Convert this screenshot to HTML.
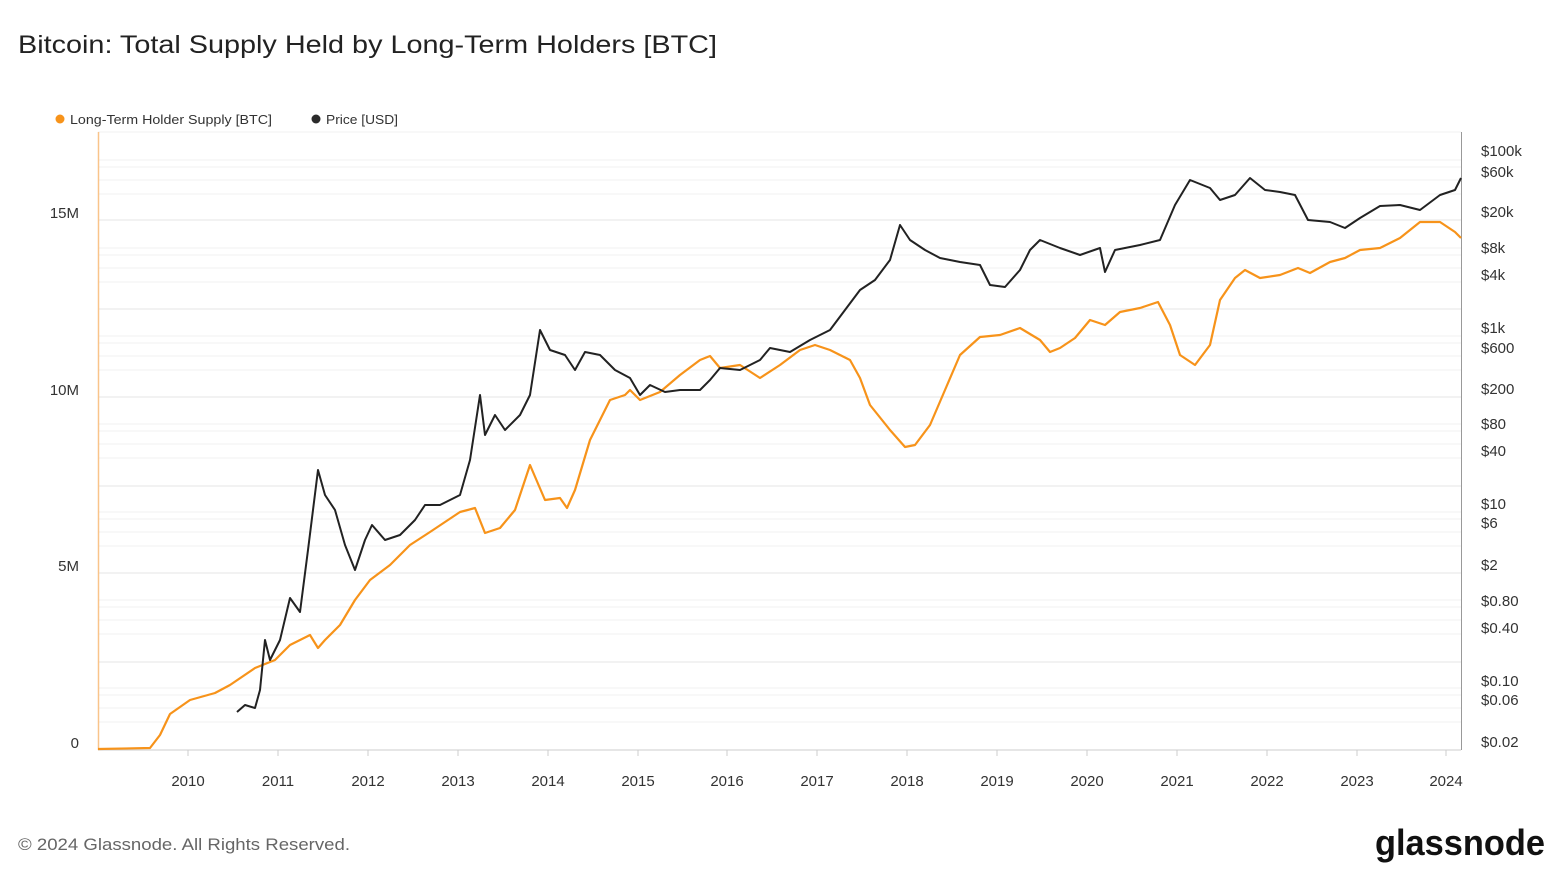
<!DOCTYPE html>
<html><head><meta charset="utf-8"><style>
body{margin:0;background:#fff;width:1555px;height:876px;overflow:hidden;font-family:"Liberation Sans",sans-serif}
</style></head><body>
<svg width="1555" height="876" xmlns="http://www.w3.org/2000/svg" font-family="Liberation Sans, sans-serif">
<text x="18" y="53" font-size="25" fill="#222" textLength="699" lengthAdjust="spacingAndGlyphs">Bitcoin: Total Supply Held by Long-Term Holders [BTC]</text>
<circle cx="60" cy="119" r="4.5" fill="#f7931a"/>
<text x="70" y="124" font-size="13" fill="#333" textLength="202" lengthAdjust="spacingAndGlyphs">Long-Term Holder Supply [BTC]</text>
<circle cx="316" cy="119" r="4.5" fill="#2b2b2b"/>
<text x="326" y="124" font-size="13" fill="#333" textLength="72" lengthAdjust="spacingAndGlyphs">Price [USD]</text>
<g stroke="#f0f0f0" stroke-width="1">
<line x1="98" y1="132" x2="1461" y2="132"/>
<line x1="98" y1="160" x2="1461" y2="160"/><line x1="98" y1="167" x2="1461" y2="167"/><line x1="98" y1="180" x2="1461" y2="180"/><line x1="98" y1="194" x2="1461" y2="194"/>
<line x1="98" y1="248" x2="1461" y2="248"/><line x1="98" y1="255" x2="1461" y2="255"/><line x1="98" y1="268" x2="1461" y2="268"/><line x1="98" y1="282" x2="1461" y2="282"/>
<line x1="98" y1="336" x2="1461" y2="336"/><line x1="98" y1="343" x2="1461" y2="343"/><line x1="98" y1="356" x2="1461" y2="356"/><line x1="98" y1="370" x2="1461" y2="370"/>
<line x1="98" y1="424" x2="1461" y2="424"/><line x1="98" y1="431" x2="1461" y2="431"/><line x1="98" y1="444" x2="1461" y2="444"/><line x1="98" y1="458" x2="1461" y2="458"/>
<line x1="98" y1="512" x2="1461" y2="512"/><line x1="98" y1="519" x2="1461" y2="519"/><line x1="98" y1="532" x2="1461" y2="532"/><line x1="98" y1="546" x2="1461" y2="546"/>
<line x1="98" y1="600" x2="1461" y2="600"/><line x1="98" y1="607" x2="1461" y2="607"/><line x1="98" y1="620" x2="1461" y2="620"/><line x1="98" y1="634" x2="1461" y2="634"/>
<line x1="98" y1="688" x2="1461" y2="688"/><line x1="98" y1="695" x2="1461" y2="695"/><line x1="98" y1="708" x2="1461" y2="708"/><line x1="98" y1="722" x2="1461" y2="722"/>
</g>
<g stroke="#e4e4e4" stroke-width="1">
<line x1="98" y1="220" x2="1461" y2="220"/><line x1="98" y1="309" x2="1461" y2="309"/><line x1="98" y1="397" x2="1461" y2="397"/><line x1="98" y1="486" x2="1461" y2="486"/><line x1="98" y1="573" x2="1461" y2="573"/><line x1="98" y1="662" x2="1461" y2="662"/>
</g>
<line x1="98" y1="750" x2="1461" y2="750" stroke="#ccc"/>
<line x1="98.5" y1="132" x2="98.5" y2="750" stroke="#f9c48a" stroke-width="1.5"/>
<line x1="1461.5" y1="132" x2="1461.5" y2="750" stroke="#999" stroke-width="1"/>
<g stroke="#ccc"><line x1="188" y1="750" x2="188" y2="756"/><line x1="278" y1="750" x2="278" y2="756"/><line x1="368" y1="750" x2="368" y2="756"/><line x1="458" y1="750" x2="458" y2="756"/><line x1="548" y1="750" x2="548" y2="756"/><line x1="638" y1="750" x2="638" y2="756"/><line x1="727" y1="750" x2="727" y2="756"/><line x1="817" y1="750" x2="817" y2="756"/><line x1="907" y1="750" x2="907" y2="756"/><line x1="997" y1="750" x2="997" y2="756"/><line x1="1087" y1="750" x2="1087" y2="756"/><line x1="1177" y1="750" x2="1177" y2="756"/><line x1="1267" y1="750" x2="1267" y2="756"/><line x1="1357" y1="750" x2="1357" y2="756"/><line x1="1446" y1="750" x2="1446" y2="756"/></g>
<g font-size="15" fill="#333" text-anchor="middle">
<text x="188" y="786">2010</text><text x="278" y="786">2011</text><text x="368" y="786">2012</text><text x="458" y="786">2013</text><text x="548" y="786">2014</text><text x="638" y="786">2015</text><text x="727" y="786">2016</text><text x="817" y="786">2017</text><text x="907" y="786">2018</text><text x="997" y="786">2019</text><text x="1087" y="786">2020</text><text x="1177" y="786">2021</text><text x="1267" y="786">2022</text><text x="1357" y="786">2023</text><text x="1446" y="786">2024</text>
</g>
<g font-size="15" fill="#333" text-anchor="end">
<text x="79" y="218">15M</text><text x="79" y="395">10M</text><text x="79" y="571">5M</text><text x="79" y="748">0</text>
</g>
<g font-size="15" fill="#333">
<text x="1481" y="156">$100k</text><text x="1481" y="177">$60k</text><text x="1481" y="217">$20k</text><text x="1481" y="253">$8k</text><text x="1481" y="280">$4k</text><text x="1481" y="333">$1k</text><text x="1481" y="353">$600</text><text x="1481" y="394">$200</text><text x="1481" y="429">$80</text><text x="1481" y="456">$40</text><text x="1481" y="509">$10</text><text x="1481" y="528">$6</text><text x="1481" y="570">$2</text><text x="1481" y="606">$0.80</text><text x="1481" y="633">$0.40</text><text x="1481" y="686">$0.10</text><text x="1481" y="705">$0.06</text><text x="1481" y="747">$0.02</text>
</g>
<polyline fill="none" stroke="#f7931a" stroke-width="2.2" stroke-linejoin="round" points="98,749 150,748 160,735 170,714 190,700 215,693 230,685 255,668 275,660 290,645 310,635 318,648 325,640 340,625 355,600 370,580 390,565 410,545 430,532 460,512 475,508 485,533 500,528 515,510 530,465 545,500 560,498 567,508 575,490 590,440 610,400 625,395 630,390 640,400 660,392 680,375 700,360 710,356 720,368 740,365 760,378 780,365 800,350 815,345 830,350 850,360 860,378 870,405 890,430 905,447 915,445 930,425 945,390 960,355 980,337 1000,335 1020,328 1040,340 1050,352 1060,348 1075,338 1090,320 1105,325 1120,312 1140,308 1158,302 1170,325 1180,355 1195,365 1210,345 1220,300 1235,278 1245,270 1260,278 1280,275 1298,268 1310,273 1330,262 1345,258 1360,250 1380,248 1400,238 1420,222 1440,222 1455,232 1461,238"/>
<polyline fill="none" stroke="#222" stroke-width="2" stroke-linejoin="round" points="237,712 245,705 255,708 260,690 265,640 270,660 280,640 290,598 300,612 308,550 318,470 325,495 335,510 345,545 355,570 365,540 372,525 385,540 400,535 415,520 425,505 440,505 460,495 470,460 480,395 485,435 495,415 505,430 520,415 530,395 540,330 550,350 565,355 575,370 585,352 600,355 615,370 630,378 640,395 650,385 665,392 680,390 700,390 710,380 720,368 740,370 760,360 770,348 790,352 810,340 830,330 845,310 860,290 875,280 890,260 900,225 910,240 925,250 940,258 960,262 980,265 990,285 1005,287 1020,270 1030,250 1040,240 1060,248 1080,255 1100,248 1105,272 1115,250 1140,245 1160,240 1175,205 1190,180 1210,188 1220,200 1235,195 1250,178 1265,190 1280,192 1295,195 1308,220 1330,222 1345,228 1360,218 1380,206 1400,205 1420,210 1440,195 1455,190 1461,178"/>
<text x="18" y="850" font-size="17" fill="#666" textLength="332" lengthAdjust="spacingAndGlyphs">© 2024 Glassnode. All Rights Reserved.</text>
<text x="1375" y="855" font-size="36" fill="#111" font-weight="bold" textLength="170" lengthAdjust="spacingAndGlyphs">glassnode</text>
</svg>
</body></html>
